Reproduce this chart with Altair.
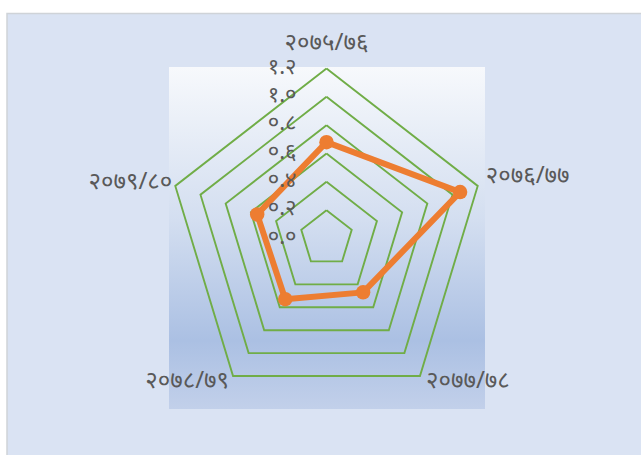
import altair as alt
import pandas as pd
import numpy as np

# ---- data ----
categories = ["२०७५/७६", "२०७६/७७", "२०७७/७८", "२०७८/७९", "२०७९/८०"]
values = [0.68, 1.06, 0.47, 0.53, 0.55]
tick_values = [0.0, 0.2, 0.4, 0.6, 0.8, 1.0, 1.2]
tick_labels = ["०.०", "०.२", "०.४", "०.६", "०.८", "१.०", "१.२"]
max_level = 1.2

# ---- layout constants ----
W, H = 641, 455
CX, CY = 326.5, 238.5        # pixel centre of the radar
RX, RY = 159.0, 170.0        # pixel radius of the 1.2 ring (x / y)
FONT = "Noto Sans"
TEXT_COLOR = "#595959"
FS = 24
TICK_FS = 22

n = len(categories)
angles = [np.pi / 2 - 2 * np.pi * i / n for i in range(n)]

grid_rows = []
for lv in tick_values[1:]:
    for k in range(n + 1):
        a = angles[k % n]
        grid_rows.append({"level": lv, "order": k,
                          "x": lv * np.cos(a), "y": lv * np.sin(a)})
grid_df = pd.DataFrame(grid_rows)

series_rows = []
for k in range(n + 1):
    i = k % n
    series_rows.append({"category": categories[i], "order": k,
                        "value": values[i],
                        "x": values[i] * np.cos(angles[i]),
                        "y": values[i] * np.sin(angles[i])})
series_df = pd.DataFrame(series_rows)
points_df = series_df.iloc[:n]

label_df = pd.DataFrame({
    "category": categories,
    "x": [max_level * np.cos(a) for a in angles],
    "y": [max_level * np.sin(a) for a in angles],
})

tick_df = pd.DataFrame({"x": [0.0] * len(tick_values), "y": tick_values,
                        "label": tick_labels})

xdom = [-CX / RX * max_level, (W - CX) / RX * max_level]
ydom = [-(H - CY) / RY * max_level, CY / RY * max_level]
xs = alt.Scale(domain=xdom, nice=False, zero=False)
ys = alt.Scale(domain=ydom, nice=False, zero=False)

X = alt.X("x:Q", scale=xs, axis=None)
Y = alt.Y("y:Q", scale=ys, axis=None)

dummy = pd.DataFrame({"a": [0]})

bg_outer = alt.Chart(dummy).mark_rect(
    fill="#dae3f3", stroke="#cfd3d8", strokeWidth=1.5
).encode(x=alt.value(7), x2=alt.value(700), y=alt.value(13.5), y2=alt.value(520))

bg_inner = alt.Chart(dummy).mark_rect(
    fill=alt.Gradient(
        gradient="linear", x1=0, y1=0, x2=0, y2=1,
        stops=[alt.GradientStop(offset=0, color="#f7f9fc"),
               alt.GradientStop(offset=0.45, color="#d3def0"),
               alt.GradientStop(offset=0.8, color="#abc0e3"),
               alt.GradientStop(offset=1, color="#c2d0ea")]
    )
).encode(x=alt.value(169), x2=alt.value(485), y=alt.value(67), y2=alt.value(409))

grid = alt.Chart(grid_df).mark_line(color="#70ad47", strokeWidth=1.9).encode(
    x=X, y=Y, order="order:Q", detail="level:N"
)

ticks = alt.Chart(tick_df).mark_text(
    align="right", baseline="middle", dx=-30, dy=-2,
    font=FONT, fontSize=TICK_FS, color=TEXT_COLOR
).encode(x=X, y=Y, text="label:N")

line = alt.Chart(series_df).mark_line(
    color="#ed7d31", strokeWidth=6, strokeJoin="round"
).encode(x=X, y=Y, order="order:Q")

points = alt.Chart(points_df).mark_circle(
    color="#ed7d31", size=210, opacity=1
).encode(x=X, y=Y)

offsets = [("center", 0, -26), ("left", 8, -10), ("left", 6, 5),
           ("right", -4, 5), ("right", -3, -4)]
label_layers = []
for cat, (al, dx, dy) in zip(categories, offsets):
    label_layers.append(
        alt.Chart(label_df).transform_filter(alt.datum.category == cat)
        .mark_text(align=al, baseline="middle", dx=dx, dy=dy,
                   font=FONT, fontSize=FS, color=TEXT_COLOR)
        .encode(x=X, y=Y, text="category:N")
    )

chart = alt.layer(
    bg_outer, bg_inner, grid, line, points, ticks, *label_layers
).properties(
    width=W, height=H, padding=0, autosize=alt.AutoSizeParams(type="none"),
    background="#ffffff"
).configure_view(stroke=None)

chart.save("out.html", embed_options={"renderer": "svg", "actions": False})
